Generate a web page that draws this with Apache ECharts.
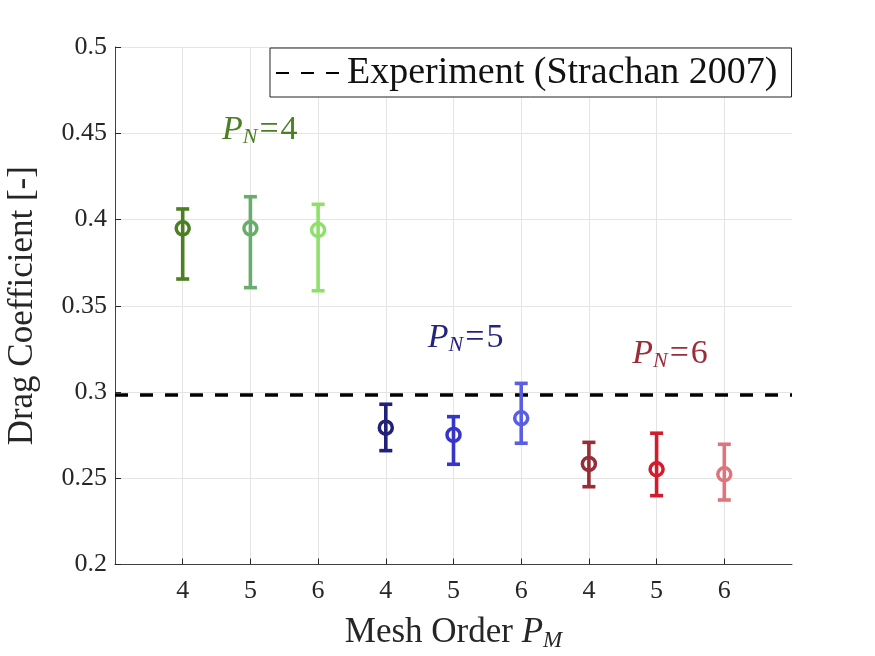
<!DOCTYPE html>
<html>
<head>
<meta charset="utf-8">
<script src="https://cdn.jsdelivr.net/npm/echarts@6/dist/echarts.min.js"></script>
<style>
  html, body { margin: 0; padding: 0; background: #fff; }
  #chart { width: 875px; height: 656px; }
</style>
</head>
<body>
<div id="chart"></div>
<script>
// mesh order tick labels, one per case (P_N = 4, 5, 6 groups)
var tickLabels = ['4', '5', '6', '4', '5', '6', '4', '5', '6'];
var positions = [1, 2, 3, 4, 5, 6, 7, 8, 9];
var means = [0.3949, 0.3949, 0.3939, 0.2793, 0.2751, 0.2848, 0.2583, 0.2552, 0.2523];
var lower = [0.3655, 0.3605, 0.3587, 0.2660, 0.2581, 0.2703, 0.2451, 0.2399, 0.2374];
var upper = [0.4061, 0.4132, 0.4088, 0.2929, 0.2857, 0.3050, 0.2708, 0.2761, 0.2697];
var colors = ['#4a7f22', '#68ad6c', '#8ee06a', '#1f2278', '#3535c8', '#5a5ee6', '#962d37', '#d21b2c', '#e0747c'];
var experiment = 0.2983;
var expName = 'Experiment (Strachan 2007)';
// P_N group labels: [x, y, text, color]
var groupLabels = [
    [1.58, 0.452, '4', '#4a7f22'],
    [4.62, 0.3313, '5', '#24247e'],
    [7.64, 0.322, '6', '#9c2c38']
];

(function(){
    var serif = '"Liberation Serif", "DejaVu Serif", serif';
    var chart = echarts.init(document.getElementById('chart'));

    var barData = positions.map(function(x, i){
        return [x, lower[i], upper[i], i];
    });
    var pointData = positions.map(function(x, i){
        return {value: [x, means[i]], itemStyle: {borderColor: colors[i], color: 'rgba(0,0,0,0)', opacity: 1}};
    });

    function renderBar(params, api){
        var x = api.value(0),
            lo = api.coord([x, api.value(1)]),
            hi = api.coord([x, api.value(2)]),
            c = colors[api.value(3)],
            hw = 6.5;
        var style = {stroke: c, lineWidth: 3.6};
        return {
            type: 'group',
            children: [
                {type: 'line', shape: {x1: lo[0], y1: lo[1], x2: hi[0], y2: hi[1]}, style: style},
                {type: 'line', shape: {x1: lo[0] - hw, y1: lo[1], x2: lo[0] + hw, y2: lo[1]}, style: style},
                {type: 'line', shape: {x1: hi[0] - hw, y1: hi[1], x2: hi[0] + hw, y2: hi[1]}, style: style}
            ]
        };
    }

    var labelSeries = groupLabels.map(function(g){
        return {
            type: 'scatter',
            symbolSize: 0,
            silent: true,
            itemStyle: {opacity: 1},
            data: [[g[0], g[1]]],
            label: {
                show: true,
                position: 'right',
                distance: 0,
                formatter: '{p|P}{s|N}{q|=}{e|' + g[2] + '}',
                rich: {
                    p: {fontFamily: serif, fontStyle: 'italic', fontSize: 34, color: g[3]},
                    s: {fontFamily: serif, fontStyle: 'italic', fontSize: 22, color: g[3], padding: [15, 0, 0, 0]},
                    q: {fontFamily: serif, fontSize: 34, color: g[3], padding: [0, 2, 0, 2]},
                    e: {fontFamily: serif, fontSize: 34, color: g[3]}
                }
            }
        };
    });

    var option = {
        animation: false,
        grid: {left: 115, right: 83, top: 47, bottom: 91.5, outerBoundsMode: 'none'},
        legend: {
            left: 270,
            top: 48,
            data: [expName],
            itemWidth: 70,
            itemHeight: 14,
            itemGap: 0,
            padding: [6, 14, 5, 5],
            backgroundColor: '#fff',
            borderColor: '#222',
            borderWidth: 1,
            borderRadius: 0,
            itemStyle: {opacity: 0},
            textStyle: {fontFamily: serif, fontSize: 38, color: '#111', padding: [0, 0, 0, -4]}
        },
        xAxis: {
            type: 'value',
            min: 0,
            max: 10,
            interval: 1,
            name: 'Mesh Order {i|P}{s|M}',
            nameLocation: 'middle',
            nameGap: 49,
            nameTextStyle: {
                fontFamily: serif, fontSize: 35, color: '#262626',
                rich: {
                    i: {fontFamily: serif, fontStyle: 'italic', fontSize: 35, color: '#262626'},
                    s: {fontFamily: serif, fontStyle: 'italic', fontSize: 23, color: '#262626', padding: [16, 0, 0, 0]}
                }
            },
            axisLine: {lineStyle: {color: '#404040', width: 1}},
            axisTick: {inside: true, length: 6, lineStyle: {color: '#262626'}},
            axisLabel: {
                fontFamily: serif, fontSize: 26, color: '#262626', margin: 14,
                showMinLabel: false, showMaxLabel: false,
                formatter: function(v){
                    var i = positions.indexOf(v);
                    return i >= 0 ? tickLabels[i] : '';
                }
            },
            splitLine: {show: true, showMinLine: false, showMaxLine: false, lineStyle: {color: '#e4e4e4', width: 1}}
        },
        yAxis: {
            type: 'value',
            min: 0.2,
            max: 0.5,
            interval: 0.05,
            name: 'Drag Coefficient [-]',
            nameLocation: 'middle',
            nameGap: 75,
            nameTextStyle: {fontFamily: serif, fontSize: 35, color: '#262626'},
            axisLine: {show: true, lineStyle: {color: '#404040', width: 1}},
            axisTick: {show: true, inside: true, length: 6, lineStyle: {color: '#262626'}},
            axisLabel: {
                fontFamily: serif, fontSize: 26, color: '#262626', margin: 8,
                formatter: function(v){ return String(+v.toFixed(2)); }
            },
            splitLine: {show: true, lineStyle: {color: '#e4e4e4', width: 1}}
        },
        series: [
            {
                name: expName,
                type: 'line',
                symbol: 'none',
                data: [[0, experiment], [10, experiment]],
                lineStyle: {color: '#000', width: 3.6, type: [13, 12]},
                itemStyle: {color: '#000'},
                z: 1
            },
            {
                type: 'custom',
                renderItem: renderBar,
                data: barData,
                z: 3
            },
            {
                type: 'scatter',
                symbol: 'circle',
                symbolSize: 13,
                data: pointData,
                itemStyle: {borderWidth: 3.5, opacity: 1},
                z: 4
            }
        ].concat(labelSeries)
    };
    chart.setOption(option);
})();
</script>
</body>
</html>
